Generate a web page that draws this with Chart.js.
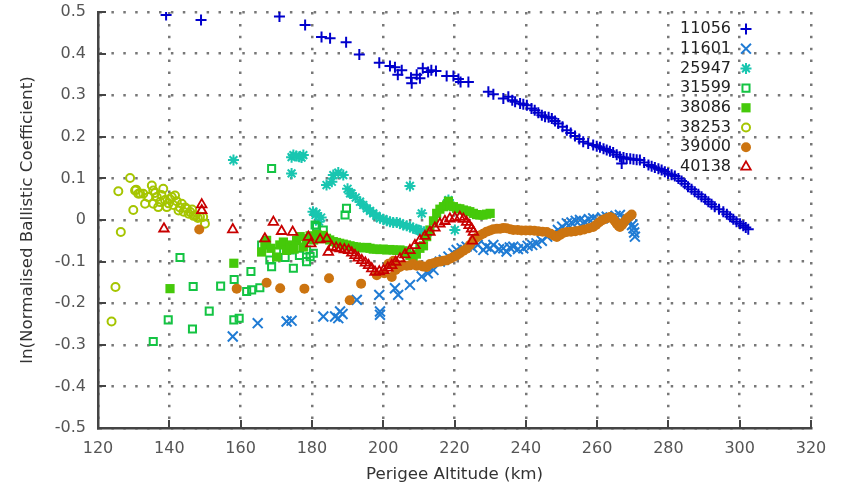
<!DOCTYPE html>
<html>
<head>
<meta charset="utf-8">
<script src="https://cdn.jsdelivr.net/npm/chart.js@4.4.1/dist/chart.umd.min.js"></script>
<style>
  body { margin: 0; background: #fff; }
  #wrap { width: 842px; height: 489px; }
</style>
</head>
<body>
<div id="wrap"><canvas id="dragChart" width="842" height="489"></canvas></div>
<script>
// object ids (legend order)
const objectIds = ['11056', '11601', '25947', '31599', '38086', '38253', '39000', '40138'];

// [perigee altitude km, ln(normalised ballistic coefficient)]
const s11056 = [[139.1,0.493],[148.9,0.481],[170.9,0.489],[178.1,0.469],[182.7,0.440],[185.1,0.437],[189.6,0.427],[193.3,0.398],[198.9,0.378],[201.9,0.370],[203.3,0.367],[204.1,0.349],[205.2,0.360],[207.8,0.342],[208.0,0.329],[209.4,0.349],[210.3,0.341],[211.1,0.365],[212.6,0.356],[213.5,0.360],[214.8,0.358],[217.8,0.346],[219.7,0.346],[221.1,0.339],[221.7,0.332],[223.9,0.332],[229.5,0.308],[230.9,0.302],[233.7,0.292],[235.1,0.296],[236.2,0.288],[237.0,0.284],[238.4,0.280],[239.3,0.278],[240.3,0.276],[241.6,0.268],[242.5,0.264],[243.5,0.258],[244.5,0.252],[245.4,0.248],[246.4,0.247],[247.3,0.244],[248.2,0.238],[249.1,0.232],[250.3,0.224],[251.5,0.216],[252.6,0.209],[253.8,0.202],[255.0,0.195],[256.1,0.188],[257.5,0.184],[258.9,0.180],[259.9,0.177],[260.8,0.175],[261.8,0.171],[262.7,0.168],[263.6,0.165],[264.5,0.162],[265.5,0.157],[266.4,0.152],[266.9,0.136],[267.4,0.150],[268.3,0.148],[269.3,0.147],[270.2,0.146],[271.1,0.145],[272.0,0.144],[273.2,0.138],[274.4,0.132],[275.3,0.129],[276.2,0.126],[277.2,0.123],[278.1,0.120],[279.0,0.116],[279.9,0.112],[280.9,0.109],[281.8,0.106],[282.8,0.100],[283.7,0.094],[284.6,0.087],[285.5,0.080],[286.5,0.074],[287.4,0.068],[288.4,0.062],[289.3,0.056],[290.3,0.050],[291.2,0.044],[292.1,0.038],[293.0,0.032],[294.2,0.026],[295.4,0.020],[296.4,0.014],[297.3,0.008],[298.2,0.002],[299.1,-0.004],[300.1,-0.009],[301.0,-0.014],[301.7,-0.018],[302.4,-0.022]];
const s11601 = [[157.8,-0.280],[164.8,-0.248],[172.9,-0.244],[174.3,-0.242],[183.2,-0.232],[186.5,-0.232],[187.4,-0.236],[187.9,-0.220],[188.6,-0.226],[192.6,-0.192],[198.9,-0.180],[199.1,-0.220],[199.1,-0.228],[203.3,-0.164],[204.2,-0.180],[207.5,-0.156],[210.8,-0.136],[212.5,-0.128],[214.1,-0.120],[215.9,-0.100],[217.0,-0.096],[218.3,-0.088],[219.7,-0.080],[220.6,-0.072],[222.0,-0.068],[223.4,-0.064],[225.0,-0.066],[226.5,-0.060],[228.1,-0.072],[229.0,-0.064],[230.0,-0.068],[230.9,-0.060],[232.5,-0.070],[233.7,-0.068],[234.6,-0.076],[235.5,-0.066],[236.5,-0.064],[237.8,-0.070],[239.3,-0.068],[240.5,-0.062],[241.8,-0.060],[243.0,-0.056],[244.5,-0.050],[246.0,-0.040],[247.7,-0.032],[249.0,-0.024],[250.2,-0.016],[251.5,-0.008],[252.8,-0.006],[254.0,-0.002],[255.2,0.000],[256.5,-0.004],[257.7,0.002],[258.9,0.004],[260.2,0.000],[261.4,0.006],[262.7,0.008],[264.0,0.004],[265.2,0.010],[266.4,0.012],[267.5,0.006],[268.5,0.002],[269.2,-0.004],[269.8,-0.012],[270.2,-0.020],[270.4,-0.030],[270.6,-0.040]];
const s25947 = [[158.0,0.144],[174.3,0.151],[174.8,0.156],[175.6,0.154],[176.5,0.152],[177.6,0.156],[174.3,0.112],[177.1,0.150],[180.3,0.020],[181.0,0.012],[181.3,0.016],[182.0,-0.004],[182.6,0.006],[184.1,0.084],[185.6,0.092],[186.0,0.108],[187.4,0.114],[188.8,0.108],[190.0,0.075],[190.7,0.064],[191.1,0.064],[192.3,0.054],[193.5,0.044],[194.4,0.036],[195.4,0.028],[196.3,0.022],[197.2,0.016],[198.1,0.010],[199.1,0.004],[200.0,0.002],[201.0,-0.002],[201.9,-0.004],[202.8,-0.006],[203.8,-0.006],[204.7,-0.008],[205.6,-0.012],[206.6,-0.014],[207.5,-0.016],[208.4,-0.020],[209.3,-0.022],[209.8,-0.024],[210.5,-0.026],[211.5,-0.028],[212.5,-0.030],[207.5,0.082],[210.8,0.016],[218.3,0.048],[220.1,-0.024]];
const s31599 = [[135.5,-0.292],[139.7,-0.240],[143.0,-0.090],[146.5,-0.262],[146.7,-0.160],[151.2,-0.219],[154.4,-0.159],[158.1,-0.240],[159.6,-0.236],[158.2,-0.143],[161.7,-0.172],[162.9,-0.124],[163.1,-0.168],[165.4,-0.163],[165.9,-0.060],[168.2,-0.096],[168.7,-0.112],[168.7,0.124],[170.1,-0.076],[172.5,-0.090],[173.9,-0.072],[174.8,-0.116],[176.5,-0.085],[178.5,-0.100],[178.5,-0.072],[179.5,-0.088],[180.4,-0.080],[180.9,-0.012],[181.3,-0.016],[183.2,-0.024],[189.3,0.012],[189.7,0.028]];
const s38086 = [[140.2,-0.165],[158.1,-0.104],[165.9,-0.077],[166.8,-0.060],[167.3,-0.049],[168.5,-0.068],[170.1,-0.089],[171.0,-0.060],[172.0,-0.053],[172.9,-0.073],[174.0,-0.060],[175.0,-0.070],[175.7,-0.049],[176.7,-0.040],[177.6,-0.065],[178.5,-0.045],[179.5,-0.038],[180.5,-0.048],[181.4,-0.035],[182.3,-0.045],[183.2,-0.037],[184.1,-0.044],[185.0,-0.048],[186.0,-0.052],[186.9,-0.054],[187.8,-0.056],[188.8,-0.058],[189.7,-0.060],[190.7,-0.062],[191.6,-0.064],[192.5,-0.065],[193.5,-0.066],[194.4,-0.067],[195.4,-0.066],[196.3,-0.068],[197.2,-0.070],[198.2,-0.070],[199.1,-0.071],[200.0,-0.070],[201.0,-0.072],[201.9,-0.071],[202.8,-0.072],[203.8,-0.073],[204.7,-0.072],[205.6,-0.074],[206.6,-0.078],[207.5,-0.085],[208.4,-0.094],[209.3,-0.082],[210.3,-0.068],[211.3,-0.062],[212.2,-0.040],[213.1,-0.024],[214.1,-0.002],[215.0,0.016],[215.9,0.026],[216.9,0.032],[217.8,0.036],[218.3,0.045],[218.7,0.034],[219.7,0.032],[220.6,0.028],[221.5,0.027],[222.5,0.024],[223.4,0.022],[224.3,0.020],[225.3,0.016],[226.2,0.013],[227.1,0.012],[228.0,0.012],[229.0,0.014],[230.0,0.016]];
const s38253 = [[123.8,-0.244],[124.9,-0.161],[125.7,0.069],[126.4,-0.029],[129.0,0.101],[129.9,0.024],[130.4,0.071],[130.7,0.073],[131.3,0.063],[131.8,0.064],[132.7,0.063],[133.2,0.039],[134.1,0.055],[135.1,0.083],[135.5,0.071],[135.5,0.039],[136.0,0.065],[136.5,0.055],[136.9,0.031],[137.4,0.043],[137.8,0.060],[138.3,0.075],[138.8,0.048],[139.3,0.031],[139.8,0.040],[140.2,0.050],[140.7,0.055],[141.1,0.036],[141.6,0.059],[142.1,0.045],[142.6,0.023],[143.0,0.030],[143.5,0.039],[144.0,0.020],[144.5,0.030],[144.9,0.027],[145.4,0.015],[145.9,0.019],[146.4,0.025],[146.8,0.010],[147.3,0.011],[148.0,0.005],[148.6,0.008],[149.5,0.007],[150.0,-0.009]];
const s39000 = [[148.4,-0.023],[158.9,-0.165],[167.3,-0.151],[171.1,-0.164],[177.9,-0.165],[184.8,-0.140],[190.6,-0.193],[193.8,-0.153],[198.2,-0.133],[200.3,-0.128],[201.5,-0.105],[202.4,-0.137],[202.9,-0.098],[203.5,-0.120],[204.7,-0.113],[205.6,-0.108],[206.6,-0.110],[207.5,-0.109],[208.4,-0.106],[209.4,-0.110],[210.3,-0.109],[211.3,-0.112],[212.2,-0.113],[213.1,-0.106],[214.1,-0.104],[215.0,-0.101],[215.9,-0.100],[216.9,-0.098],[217.8,-0.097],[218.7,-0.093],[219.7,-0.089],[220.6,-0.085],[221.5,-0.080],[222.5,-0.074],[223.4,-0.069],[224.3,-0.060],[225.3,-0.049],[226.2,-0.042],[227.1,-0.037],[228.0,-0.033],[229.0,-0.028],[230.0,-0.025],[230.9,-0.022],[231.9,-0.021],[232.8,-0.021],[233.7,-0.019],[234.6,-0.020],[235.6,-0.022],[236.5,-0.024],[237.7,-0.024],[238.8,-0.025],[240.0,-0.025],[241.2,-0.025],[242.4,-0.026],[243.5,-0.027],[244.7,-0.028],[245.9,-0.029],[247.0,-0.033],[248.0,-0.038],[248.7,-0.041],[249.6,-0.036],[250.5,-0.031],[251.5,-0.029],[252.7,-0.028],[253.9,-0.027],[255.2,-0.025],[256.4,-0.023],[257.7,-0.020],[258.9,-0.017],[259.7,-0.012],[260.5,-0.006],[261.3,-0.001],[262.1,0.002],[262.9,0.005],[263.6,0.007],[264.3,0.004],[264.9,-0.002],[265.5,-0.009],[266.0,-0.014],[266.4,-0.017],[267.0,-0.012],[267.6,-0.005],[268.3,0.003],[269.0,0.008],[269.7,0.013]];
const s40138 = [[138.5,-0.021],[149.1,0.037],[149.1,0.023],[157.8,-0.023],[166.8,-0.045],[169.2,-0.005],[171.5,-0.027],[174.6,-0.029],[179.0,-0.041],[179.7,-0.057],[182.3,-0.047],[184.2,-0.045],[184.6,-0.077],[185.6,-0.065],[186.8,-0.067],[187.9,-0.069],[189.1,-0.071],[190.3,-0.073],[191.2,-0.079],[192.1,-0.085],[193.0,-0.091],[194.0,-0.097],[195.0,-0.103],[195.9,-0.109],[196.8,-0.117],[197.7,-0.125],[198.9,-0.124],[200.1,-0.121],[201.3,-0.115],[202.4,-0.109],[203.5,-0.101],[204.7,-0.093],[206.1,-0.083],[207.5,-0.073],[208.9,-0.061],[210.3,-0.049],[211.7,-0.039],[213.1,-0.029],[214.5,-0.019],[215.9,-0.009],[217.3,-0.003],[218.7,0.003],[220.1,0.005],[221.5,0.007],[222.5,0.002],[223.4,-0.005],[224.1,-0.013],[224.8,-0.021],[225.3,-0.029],[225.0,-0.050]];

const allSeries = [s11056, s11601, s25947, s31599, s38086, s38253, s39000, s40138];

// marker look per series
const markerStyle = [
  { color: '#0000cc', fill: '#0000cc', shape: 'cross',    r: 5.5, w: 2 },
  { color: '#1f7bd4', fill: '#1f7bd4', shape: 'crossRot', r: 7,   w: 2 },
  { color: '#19c6b0', fill: '#19c6b0', shape: 'star',     r: 5.5, w: 2 },
  { color: '#14c443', fill: 'rgba(0,0,0,0)', shape: 'rect', r: 5, w: 2 },
  { color: '#45c90a', fill: '#45c90a', shape: 'rect',     r: 6.5, w: 0 },
  { color: '#a5c500', fill: 'rgba(0,0,0,0)', shape: 'circle', r: 4, w: 2 },
  { color: '#cc7410', fill: '#cc7410', shape: 'circle',   r: 5,   w: 0 },
  { color: '#c80000', fill: 'rgba(0,0,0,0)', shape: 'triangle', r: 5.5, w: 1.8 }
];

const datasets = allSeries.map(function(pts, i) {
  const m = markerStyle[i];
  return {
    label: objectIds[i],
    data: pts.map(p => ({ x: p[0], y: p[1] })),
    pointStyle: m.shape,
    pointRadius: m.r,
    borderWidth: m.w,
    pointBorderWidth: m.w,
    borderColor: m.color,
    backgroundColor: m.fill,
    pointBorderColor: m.color,
    pointBackgroundColor: m.fill,
    showLine: false,
    order: objectIds.length - i   // later ones drawn on top, like gnuplot
  };
});

// short tick marks pointing into the plot, and the key in the top right corner
const framePlugin = {
  id: 'frameBits',
  afterDraw(chart) {
    const ctx = chart.ctx;
    const xs = chart.scales.x, ys = chart.scales.y;
    ctx.save();
    ctx.fillStyle = '#444';
    xs.ticks.forEach(function(t) {
      const px = Math.round(xs.getPixelForValue(t.value));
      ctx.fillRect(px - 1, ys.bottom - 8, 2, 8);
    });
    ys.ticks.forEach(function(t) {
      const py = Math.round(ys.getPixelForValue(t.value));
      ctx.fillRect(xs.left, py - 1, 8, 2);
    });

    ctx.font = '16px "DejaVu Sans"';
    ctx.textAlign = 'right';
    ctx.textBaseline = 'middle';
    objectIds.forEach(function(id, i) {
      const y = 29 + i * 19.7;
      const m = markerStyle[i];
      ctx.fillStyle = '#222';
      ctx.fillText(id, 731, y);
      ctx.strokeStyle = m.color;
      ctx.fillStyle = m.fill;
      ctx.lineWidth = m.w;
      Chart.helpers.drawPoint(ctx, { pointStyle: m.shape, radius: m.r, rotation: 0, borderWidth: m.w }, 746, y);
    });
    ctx.restore();
  }
};

const tickFont = { family: 'DejaVu Sans', size: 16 };
const titleFont = { family: 'DejaVu Sans', size: 16.7 };
const dotGrid = { display: true, drawOnChartArea: true, drawTicks: false, color: '#777', lineWidth: 2.5 };

new Chart(document.getElementById('dragChart'), {
  type: 'scatter',
  data: { datasets: datasets },
  options: {
    responsive: false,
    devicePixelRatio: 1,
    animation: false,
    layout: { padding: { top: 12, right: 31, left: 0, bottom: 0 } },
    plugins: { legend: { display: false }, tooltip: { enabled: false } },
    scales: {
      x: {
        type: 'linear',
        min: 120,
        max: 320,
        ticks: { stepSize: 20, color: '#555', font: tickFont, padding: 11 },
        grid: dotGrid,
        border: { display: true, color: '#444', width: 2.5, dash: [2.5, 9.4] },
        title: { display: true, text: 'Perigee Altitude (km)', color: '#333', font: titleFont, padding: { top: 0, bottom: 4 } },
        afterFit: function(s) { s.height = 61; s.paddingLeft = 0; s.paddingRight = 0; }
      },
      y: {
        type: 'linear',
        min: -0.5,
        max: 0.5,
        ticks: { stepSize: 0.1, color: '#555', font: tickFont, padding: 12 },
        grid: dotGrid,
        border: { display: true, color: '#444', width: 2.5, dash: [2.5, 9.4] },
        title: { display: true, text: 'ln(Normalised Ballistic Coefficient)', color: '#333', font: titleFont, padding: { top: 18, bottom: 0 } },
        afterFit: function(s) { s.width = 98; s.paddingTop = 0; s.paddingBottom = 0; }
      }
    }
  },
  plugins: [framePlugin]
});
</script>
</body>
</html>
